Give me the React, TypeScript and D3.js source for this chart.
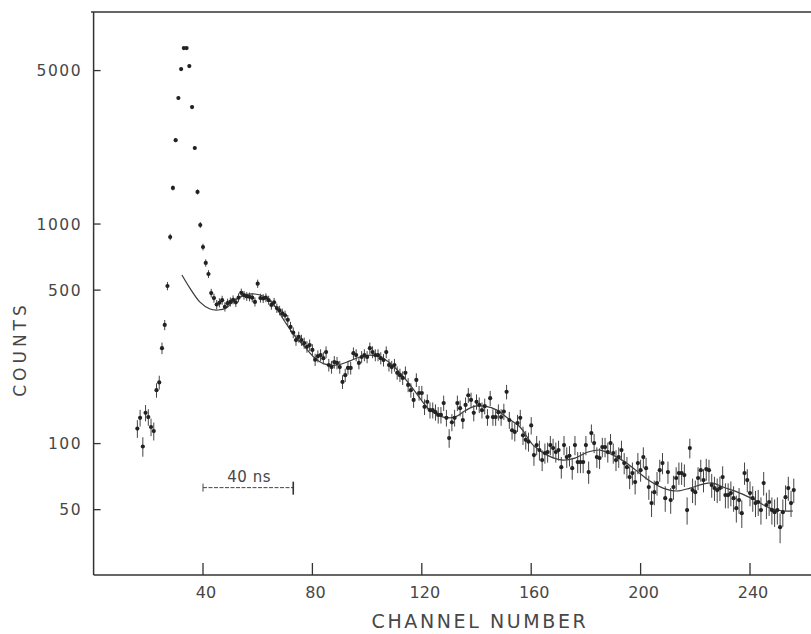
import React from 'react';
import * as d3 from 'd3';

const W = 811;
const H = 634;

// channel of the first data point; each following value is the next channel
const firstChannel = 16;

// counts per channel
const countsRise = [117, 131, 97, 138, 132, 119, 114, 175, 190, 272, 347, 522, 873, 1460, 2410, 3750, 5080, 6330, 6330, 5240, 3410, 2220, 1400, 990, 786, 665, 592, 485];
const countsA = [460, 430, 438, 450, 420, 436, 442, 452, 440, 462, 486, 474, 468, 466, 462, 442, 535, 460, 458, 462, 450, 428, 440, 414, 404, 392, 384, 366, 340, 320, 296, 306, 296, 287, 276, 281, 267, 241, 250, 253];
const countsB = [245, 261, 228, 223, 235, 233, 223, 191, 205, 221, 221, 258, 253, 233, 248, 253, 248, 272, 261, 253, 253, 245, 240, 261, 228, 223, 228, 210, 205, 199, 210, 185, 175, 158, 195, 170, 170, 147, 155, 142, 142, 139, 135, 135, 153, 131, 106, 125, 131, 153];
const countsC = [145, 128, 150, 166, 158, 138, 155, 150, 142, 148, 132, 161, 132, 132, 139, 132, 140, 172, 128, 115, 113, 124, 131, 109, 104, 102, 121, 88.6, 98.4, 93.4, 84.1, 90.5, 91.5, 98.4, 95.4, 91.5, 93.4, 78.1, 98.4, 86.8, 88, 77.3, 98.4, 82.4, 82.4, 82.4, 98.4, 74.2, 111.6, 100.5, 86.8, 85.9, 96.4, 96.4, 91.5, 100.5, 90.5, 84.1, 86.8, 93.4, 81.5, 78.1];
const countsD = [70.4, 73.4, 66.8, 81.5, 75.7, 86.8, 77.3, 63.4, 53.6, 60.1, 66.1, 75.7, 81.5, 56.4, 74.2, 55.3, 63.4, 69.7, 73.4, 73.4, 71.9, 49.8, 95.4, 61.4, 60.1, 69.7, 75.7, 68.2, 76.5, 75.7, 64.7, 62.7, 61.4, 62.7, 70.4, 58.3, 58.3, 59.5, 56.4, 50.8, 55.3, 48.2, 73.4, 68.2, 59.5, 56.4, 53.6, 54.2, 49.8, 66.1, 52.5, 54.2, 49.8, 48.7, 49.8, 41.6, 48.7, 57, 62.7, 53.6, 61.4];
const counts = [...countsRise, ...countsA, ...countsB, ...countsC, ...countsD];

// fitted curve
const curveChannels = [32.3, 35.2, 38.9, 42.6, 45.5, 48.4, 51.7, 55.4, 59, 62.7, 66.3, 70, 73.6, 77.3, 80.9, 84.6, 89.4, 93.7, 97.4, 101.1, 104.7, 108.4, 112, 115.7, 119.3, 123, 127.8, 132.1, 135.8, 139.5, 143.1, 147.5, 151.2, 155.9, 160.7, 165.8, 171.6, 176, 180.8, 185.2, 189.9, 194.3, 198.7, 203.4, 208.2, 213.3, 218.1, 222.8, 226.5, 230.1, 236.3, 241.8, 247.3, 252, 255.7];
const curveCounts = [586, 511, 441, 410, 406, 414, 451, 475, 480, 465, 423, 358, 309, 275, 245, 230, 228, 238, 248, 253, 248, 233, 210, 185, 161, 142, 132, 132, 141, 148, 148, 142, 131, 119, 98.4, 88.6, 84.1, 85.9, 91.5, 93.4, 88.6, 82.4, 74.9, 67.5, 62.7, 60.8, 62.7, 65.4, 66.1, 63.4, 59.5, 55.3, 50.8, 49.3, 49.3];

const xTicks = [40, 80, 120, 160, 200, 240];
const yTicks = [50, 100, 500, 1000, 5000];
const yTickLabels = ['50', '100', '500', '1000', '5000'];
const xTitle = 'CHANNEL NUMBER';
const yTitle = 'COUNTS';
const scaleBarLabel = '40 ns';
const scaleBarChannels = [40, 73];
const scaleBarCount = 63;

const FONT = '"DejaVu Sans", sans-serif';
const INK = '#222';
const TEXT = '#474747';

export default function App() {
  const x = d3.scaleLinear().domain([0, 262.3]).range([93.6, 811]);
  const y = d3.scaleLog().domain([25.2, 9243]).range([575, 12]);

  const pts = counts.map((c, i) => ({ ch: firstChannel + i, c }));
  const curvePts: [number, number][] = curveChannels.map((ch, i) => [ch, curveCounts[i]]);
  const line = d3
    .line<[number, number]>()
    .x((d) => x(d[0]))
    .y((d) => y(d[1]))
    .curve(d3.curveCatmullRom.alpha(0.5));

  const x0 = x(0);
  const yB = y(25.2);
  const yT = y(9243);

  const sbX1 = x(scaleBarChannels[0]);
  const sbX2 = x(scaleBarChannels[1]);
  const sbY = y(scaleBarCount);

  return (
    <svg
      width={W}
      height={H}
      viewBox={`0 0 ${W} ${H}`}
      style={{ position: 'absolute', left: 0, top: 0, background: '#fff' }}
    >
      <rect x={0} y={0} width={W} height={H} fill="#fff" />
      {/* frame */}
      <line x1={x0 - 2.5} y1={yT} x2={W} y2={yT} stroke="#333" strokeWidth={1.6} />
      <line x1={x0} y1={yT} x2={x0} y2={yB} stroke="#333" strokeWidth={1.5} />
      <line x1={x0} y1={yB} x2={W} y2={yB} stroke="#333" strokeWidth={1.6} />

      {/* x ticks */}
      {xTicks.map((t) => (
        <g key={'xt' + t}>
          <line x1={x(t)} y1={yB} x2={x(t)} y2={yB - 12} stroke="#333" strokeWidth={1.3} />
          <text
            x={x(t) + 3}
            y={598}
            textAnchor="middle"
            fontFamily={FONT}
            fontSize={16}
            fill={TEXT}
          >
            {String(t)}
          </text>
        </g>
      ))}

      {/* y ticks */}
      {yTicks.map((t, i) => (
        <g key={'yt' + t}>
          <line x1={x0} y1={y(t)} x2={x0 + 7} y2={y(t)} stroke="#333" strokeWidth={1.3} />
          <text
            x={82}
            y={y(t)}
            dy="0.36em"
            textAnchor="end"
            fontFamily={FONT}
            fontSize={15.5}
            letterSpacing={1.5}
            fill={TEXT}
          >
            {yTickLabels[i]}
          </text>
        </g>
      ))}

      {/* axis titles */}
      <text
        x={480}
        y={628}
        textAnchor="middle"
        fontFamily={FONT}
        fontSize={19}
        letterSpacing={2.6}
        fill={TEXT}
      >
        {xTitle}
      </text>
      <text
        transform={`translate(26, 349) rotate(-90)`}
        textAnchor="middle"
        fontFamily={FONT}
        fontSize={17}
        letterSpacing={4}
        fill={TEXT}
      >
        {yTitle}
      </text>

      {/* fitted curve */}
      <path d={line(curvePts) || ''} fill="none" stroke="#3a3a3a" strokeWidth={1.2} />

      {/* error bars */}
      {pts.map((p) => {
        const e = Math.sqrt(p.c);
        return (
          <line
            key={'e' + p.ch}
            x1={x(p.ch)}
            x2={x(p.ch)}
            y1={y(p.c + e)}
            y2={y(Math.max(p.c - e, 1))}
            stroke="#444"
            strokeWidth={1}
          />
        );
      })}
      {/* points */}
      {pts.map((p) => (
        <circle key={'p' + p.ch} cx={x(p.ch)} cy={y(p.c)} r={2.1} fill={INK} />
      ))}

      {/* 40 ns scale bar */}
      <line
        x1={sbX1}
        y1={sbY}
        x2={sbX2}
        y2={sbY}
        stroke="#444"
        strokeWidth={1}
        strokeDasharray="4 1.5"
      />
      <line x1={sbX1} y1={sbY - 4} x2={sbX1} y2={sbY + 4} stroke="#444" strokeWidth={1} />
      <line x1={sbX2} y1={sbY - 6} x2={sbX2} y2={sbY + 7} stroke="#333" strokeWidth={1.6} />
      <text
        x={(sbX1 + sbX2) / 2 + 1}
        y={sbY - 6}
        textAnchor="middle"
        fontFamily={FONT}
        fontSize={15}
        letterSpacing={0.5}
        fill={TEXT}
      >
        {scaleBarLabel}
      </text>
    </svg>
  );
}
